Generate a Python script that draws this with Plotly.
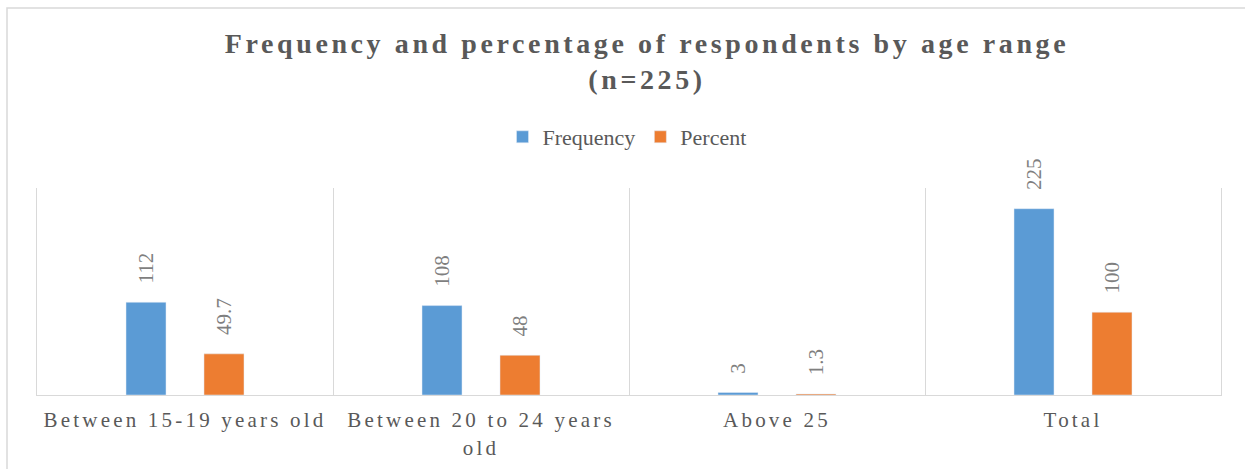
import plotly.graph_objects as go

# Age ranges and respondent counts
categories = ["Between 15-19 years old", "Between 20 to 24 years<br>old", "Above 25", "Total"]
frequency = [112, 108, 3, 225]
percent = [49.7, 48, 1.3, 100]

BLUE = "#5B9BD5"
ORANGE = "#ED7D31"
TEXT = "#595959"
LABEL = "#7F7F7F"
GRID = "#D9D9D9"
SERIF = "Liberation Serif, Times New Roman, serif"

W, H = 1245, 469
ML, MR, MT, MB = 37, 24, 188, 74

# leading no-break spaces keep the rotated value labels clear of the bar tops
label_tmpl = "\u00a0\u00a0\u00a0%{y}"

fig = go.Figure()
for name, vals, color in (("Frequency", frequency, BLUE), ("Percent", percent, ORANGE)):
    fig.add_trace(go.Bar(
        name=name, x=categories, y=vals, marker_color=color,
        text=vals, texttemplate=label_tmpl, textposition="outside", textangle=-90,
        textfont=dict(family=SERIF, size=21, color=LABEL),
        constraintext="none", cliponaxis=False,
    ))

pw = W - ML - MR
ph = H - MT - MB

fig.update_layout(
    width=W, height=H, autosize=False,
    margin=dict(l=ML, r=MR, t=MT, b=MB, autoexpand=False),
    paper_bgcolor="white", plot_bgcolor="white",
    barmode="group", bargap=0.473, bargroupgap=0.487,
    title=dict(
        text="Frequency and percentage of respondents by age range<br>(n=225)",
        font=dict(family=SERIF, size=28, color=TEXT, weight="bold"),
        xref="container", x=647 / W, xanchor="center",
        yref="container", y=1 - 53 / H, yanchor="top",
    ),
    legend=dict(
        orientation="h", xref="container", x=627 / W, xanchor="center",
        yref="container", y=1 - 137 / H, yanchor="middle",
        font=dict(family=SERIF, size=22, color=TEXT),
        bgcolor="rgba(0,0,0,0)",
    ),
    xaxis=dict(
        type="category", tickson="boundaries", ticks="", automargin=False,
        showgrid=True, gridcolor=GRID, gridwidth=1,
        showline=True, linecolor=GRID, linewidth=1,
        tickangle=0, ticklabelstandoff=6,
        tickfont=dict(family=SERIF, size=21, color=TEXT),
    ),
    yaxis=dict(
        range=[0, 250], showticklabels=False, showgrid=False, zeroline=False,
        automargin=False,
        showline=True, linecolor=GRID, linewidth=1, mirror=True, ticks="",
    ),
    shapes=[dict(
        type="rect", xref="paper", yref="paper", layer="below",
        x0=(7 - ML) / pw, x1=1.2, y0=-1.0, y1=(H - MB - 8) / ph,
        line=dict(color=GRID, width=1.5), fillcolor="rgba(0,0,0,0)",
    )],
)

# widen character spacing of title and category labels
post = """
document.querySelectorAll('.gtitle').forEach(function(t){ t.style.letterSpacing = '3.6px'; });
document.querySelectorAll('.xtick text').forEach(function(t){ t.style.letterSpacing = '3.2px'; });
"""

fig.write_html("out.html", post_script=post, config={"responsive": False, "displayModeBar": False})
